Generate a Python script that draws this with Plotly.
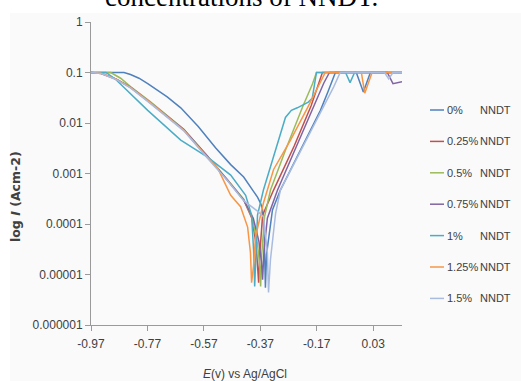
import plotly.graph_objects as go

# ---- data (E in V vs Ag/AgCl, I in A cm-2) ----
names = ["0%", "0.25%", "0.5%", "0.75%", "1%", "1.25%", "1.5%"]
colors = ["#4F81BD", "#C0504D", "#9BBB59", "#8064A2", "#4BACC6", "#F79646", "#A9BCE0"]

E_0 = [-0.97, -0.853, -0.830, -0.800, -0.769, -0.735, -0.700, -0.652, -0.590, -0.528, -0.475, -0.429, -0.400,
       -0.380, -0.368, -0.362, -0.356, -0.352, -0.348, -0.341, -0.327, -0.299, -0.228, -0.157, -0.130,
       -0.114, -0.104, -0.030, -0.005, 0.020, 0.132]
I_0 = [0.1, 0.1, 0.091, 0.077, 0.060, 0.045, 0.033, 0.020, 0.0085, 0.0032, 1.5e-3, 8.5e-4, 5.0e-4,
       3.4e-4, 2.5e-4, 1.9e-4, 5e-5, 5.5e-6, 2.5e-5, 4.9e-5, 1.9e-4, 4.7e-4, 2.9e-3, 0.0178, 0.042,
       0.075, 0.1, 0.1, 0.041, 0.1, 0.1]

E_025 = [-0.97, -0.935, -0.88, -0.829, -0.758, -0.641, -0.557, -0.486, -0.429, -0.400, -0.385,
         -0.379, -0.376, -0.372, -0.362, -0.323, -0.25, -0.19, -0.165, -0.150, 0.132]
I_025 = [0.1, 0.095, 0.073, 0.050, 0.0245, 0.0072, 0.0021, 7.4e-4, 3.0e-4, 1.3e-4, 4e-5,
         1.5e-5, 6.9e-6, 2.5e-5, 1.5e-4, 4.7e-4, 3.5e-3, 0.022, 0.055, 0.1, 0.1]

E_05 = [-0.97, -0.90, -0.865, -0.829, -0.758, -0.641, -0.557, -0.486, -0.429, -0.400, -0.380,
        -0.372, -0.369, -0.365, -0.355, -0.334, -0.28, -0.22, -0.185, -0.171, 0.132]
I_05 = [0.1, 0.1, 0.077, 0.052, 0.026, 0.0075, 0.0022, 7.6e-4, 3.1e-4, 1.4e-4, 4e-5,
        1.5e-5, 5.8e-6, 2.5e-5, 1.4e-4, 4.7e-4, 3.0e-3, 0.021, 0.060, 0.1, 0.1]

E_075 = [-0.97, -0.935, -0.88, -0.829, -0.758, -0.641, -0.557, -0.486, -0.429, -0.395, -0.375,
         -0.366, -0.362, -0.357, -0.345, -0.309, -0.25, -0.18, -0.145, -0.125, 0.080, 0.100, 0.132]
I_075 = [0.1, 0.097, 0.074, 0.051, 0.025, 0.0074, 0.0022, 7.5e-4, 3.0e-4, 1.3e-4, 4.5e-5,
         1.8e-5, 7.9e-6, 3e-5, 1.3e-4, 4.7e-4, 2.8e-3, 0.022, 0.062, 0.1, 0.1, 0.06, 0.066]

E_1 = [-0.97, -0.917, -0.885, -0.853, -0.769, -0.652, -0.557, -0.475, -0.422, -0.401, -0.394, -0.390,
       -0.386, -0.380, -0.359, -0.334, -0.310, -0.281, -0.260, -0.239, -0.200, -0.186, -0.171,
       -0.068, -0.052, -0.036, 0.132]
I_1 = [0.1, 0.1, 0.075, 0.050, 0.0178, 0.0046, 0.0021, 9.3e-4, 3.7e-4, 1.5e-4, 3.1e-5, 5.8e-6,
       3.1e-5, 1.5e-4, 4.7e-4, 1.35e-3, 4.0e-3, 0.0129, 0.0178, 0.020, 0.026, 0.031, 0.1,
       0.1, 0.063, 0.1, 0.1]

E_125 = [-0.97, -0.935, -0.88, -0.829, -0.758, -0.641, -0.557, -0.522, -0.475, -0.440, -0.415, -0.405,
         -0.401, -0.394, -0.387, -0.359, -0.323, -0.263, -0.203, -0.165, -0.140, -0.012, 0.000, 0.026, 0.132]
I_125 = [0.1, 0.097, 0.073, 0.050, 0.025, 0.0072, 0.0021, 1.3e-3, 3.7e-4, 2.2e-4, 8.7e-5, 2.7e-5,
         6.9e-6, 1.5e-5, 5.6e-5, 2.6e-4, 1.2e-3, 4.6e-3, 0.020, 0.055, 0.1, 0.1, 0.039, 0.1, 0.1]

E_15 = [-0.97, -0.935, -0.88, -0.829, -0.758, -0.641, -0.557, -0.486, -0.429, -0.380, -0.359, -0.345,
        -0.341, -0.334, -0.316, -0.299, -0.228, -0.157, -0.110, -0.087, 0.070, 0.085, 0.100, 0.132]
I_15 = [0.1, 0.096, 0.072, 0.049, 0.024, 0.0070, 0.0020, 7.2e-4, 2.9e-4, 1.8e-4, 1.4e-4, 2.7e-5,
        4.4e-6, 2.0e-5, 1.6e-4, 4.7e-4, 2.75e-3, 0.016, 0.052, 0.1, 0.1, 0.075, 0.1, 0.1]

series_E = [E_0, E_025, E_05, E_075, E_1, E_125, E_15]
series_I = [I_0, I_025, I_05, I_075, I_1, I_125, I_15]

x_ticks = [-0.97, -0.77, -0.57, -0.37, -0.17, 0.03]
x_ticktext = ["-0.97", "-0.77", "-0.57", "-0.37", "-0.17", "0.03"]
y_ticks = [1, 0.1, 0.01, 0.001, 0.0001, 0.00001, 0.000001]
y_ticktext = ["1", "0.1", "0.01", "0.001", "0.0001", "0.00001", "0.000001"]

W, H = 521, 381
L, R, T, B = 91, 119, 22, 56
pw, ph = W - L - R, H - T - B

def px_to_paper_x(px):
    return (px - L) / pw

def px_to_paper_y(py):
    return 1 - (py - T) / ph

fig = go.Figure()
for n, c, ex, iy in zip(names, colors, series_E, series_I):
    fig.add_trace(go.Scatter(x=ex, y=iy, mode="lines", name=n + " NNDT",
                             line=dict(color=c, width=1.5), showlegend=False))

narrow = "Liberation Sans Narrow, Arial Narrow, Liberation Sans, sans-serif"
tickfont = dict(family=narrow, size=12, color="#404040")

fig.update_layout(
    width=W, height=H,
    margin=dict(l=L, r=R, t=T, b=B),
    paper_bgcolor="white", plot_bgcolor="rgba(0,0,0,0)",
    xaxis=dict(range=[-0.97, 0.132], tickvals=x_ticks, ticktext=x_ticktext,
               showgrid=False, zeroline=False, showline=True, linecolor="#9a9a9a",
               linewidth=1, ticks="outside", ticklen=5, tickcolor="#9a9a9a",
               tickfont=tickfont, ticklabelstandoff=3),
    yaxis=dict(type="log", range=[-6, 0], tickvals=y_ticks, ticktext=y_ticktext,
               showgrid=False, zeroline=False, showline=True, linecolor="#9a9a9a",
               linewidth=1, ticks="outside", ticklen=5, tickcolor="#9a9a9a",
               tickfont=tickfont),
)

# faint chart-area background
fig.add_shape(type="rect", xref="paper", yref="paper", layer="below",
              x0=px_to_paper_x(10), x1=px_to_paper_x(521), y0=px_to_paper_y(381), y1=px_to_paper_y(13),
              fillcolor="#fafafa", line=dict(width=0))

# legend (manual)
leg_y0, leg_dy = 110, 31.4
for i, (n, c) in enumerate(zip(names, colors)):
    yy = px_to_paper_y(leg_y0 + i * leg_dy)
    fig.add_shape(type="line", xref="paper", yref="paper",
                  x0=px_to_paper_x(430), x1=px_to_paper_x(444), y0=yy, y1=yy,
                  line=dict(color=c, width=1.5))
    fig.add_annotation(xref="paper", yref="paper", x=px_to_paper_x(445), y=yy,
                       xanchor="left", yanchor="middle", showarrow=False,
                       text=n, font=dict(family=narrow, size=11, color="#404040"))
    fig.add_annotation(xref="paper", yref="paper", x=px_to_paper_x(513), y=yy,
                       xanchor="right", yanchor="middle", showarrow=False,
                       text="NNDT", font=dict(family=narrow, size=11, color="#404040"))

# axis titles
fig.add_annotation(xref="paper", yref="paper", x=px_to_paper_x(15), y=px_to_paper_y(197),
                   xanchor="center", yanchor="middle", showarrow=False, textangle=-90,
                   text="<b>log <i>I</i> (Acm-2)</b>",
                   font=dict(family="DejaVu Sans, sans-serif", size=12.5, color="#404040"))
fig.add_annotation(xref="paper", yref="paper", x=px_to_paper_x(245), y=px_to_paper_y(374),
                   xanchor="center", yanchor="middle", showarrow=False,
                   text="<i>E</i>(v) vs Ag/AgCl",
                   font=dict(family=narrow, size=12, color="#404040"))

# partially visible caption text above the chart (cut off at the top, as in the source)
fig.add_annotation(xref="paper", yref="paper", x=px_to_paper_x(241), y=px_to_paper_y(14),
                   xanchor="center", yanchor="bottom", showarrow=False,
                   text="concentrations of NNDT.",
                   font=dict(family="Liberation Serif, Times New Roman, serif", size=27, color="#000000"))

fig.write_html("out.html")
